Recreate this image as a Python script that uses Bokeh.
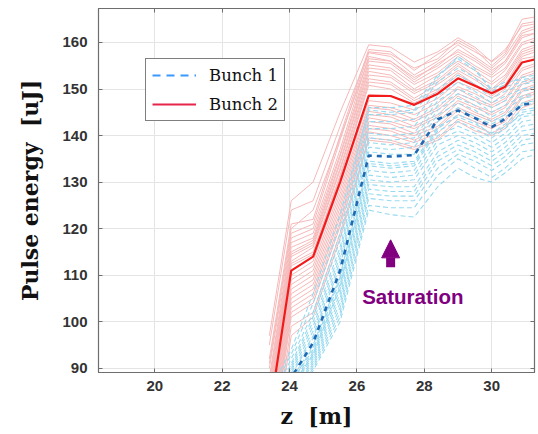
from bokeh.plotting import figure
from bokeh.models import (Range1d, LinearAxis, Legend, LegendItem, Arrow, NormalHead,
                          Label, FixedTicker)
from bokeh.embed import file_html
from bokeh.resources import INLINE

# ---------------- data ----------------
z = [23.4, 24.05, 24.7, 25.5, 26.35, 27.0, 27.7, 28.4, 29.0, 29.5, 30.0, 30.4, 30.9, 31.3]

bunch2_mean = [80, 111, 114, 130, 148.6, 148.5, 146.6, 149.0, 152.3, 150.7, 149.1, 150.5, 155.7, 156.4]
bunch1_mean = [79.5, 88, 95.5, 111, 135.7, 135.5, 135.8, 143.5, 145.4, 143.8, 141.8, 143.6, 146.6, 147.1]

bunch2_shots = [
    [97, 126, 130, 145, 159.5, 159, 155.8, 158, 161, 159, 155.8, 158, 165, 165.5],
    [95, 124, 126, 142, 158, 157.5, 154.5, 156.5, 160.5, 158.5, 155, 157.5, 164, 164.5],
    [92, 121, 122, 140, 158.5, 158, 154, 157.5, 160, 158, 156, 158.5, 163.5, 164],
    [91, 120, 124, 139.5, 156.5, 156, 152, 155.5, 158, 156, 153.5, 156, 162, 163],
    [90, 119, 121, 139, 157.8, 157, 153, 156, 159.5, 157, 154.5, 157, 162.5, 163.5],
    [88, 118, 120, 137, 157, 156, 152.5, 155, 158.5, 156.5, 154, 156, 161.5, 162],
    [87, 117, 119, 136, 156, 155.5, 151.5, 154.5, 157.5, 155, 153, 155.5, 161, 162],
    [86, 116, 118, 135.5, 155.2, 154.5, 151, 153.5, 157, 154.5, 152.5, 154.5, 160, 161],
    [85, 115, 117.5, 134.5, 154.5, 154, 150, 153, 156, 154, 151.5, 154, 159.5, 160.5],
    [84, 114.5, 117, 134, 153.8, 153, 149.5, 152, 155.5, 153, 151, 153, 158.5, 159.5],
    [83, 114, 116.5, 133, 153, 152.5, 149, 151.5, 155, 152.5, 150, 152.5, 158, 159],
    [82, 113, 116, 132.5, 152.2, 151.5, 148, 151, 154, 152, 149.5, 152, 157.5, 158.5],
    [81, 112.5, 115, 131.5, 151.5, 151, 147.5, 150, 153.5, 151, 149, 151, 157, 158],
    [81, 112, 114.5, 131, 150.8, 150, 147, 149.5, 153, 151, 148.5, 150.5, 156.5, 157],
    [79, 110, 113, 129.5, 147.5, 147, 145.5, 148, 151.5, 150, 148, 150, 154.5, 155.5],
    [78, 109, 112, 128.5, 146.5, 146, 144.5, 147, 150.5, 149, 147, 149, 154, 155],
    [77, 108, 111, 127.5, 146, 145.5, 143.5, 146, 150, 148, 146.5, 148, 153, 154],
    [76, 107, 110, 126.5, 145.2, 144.5, 143, 145.5, 149, 147.5, 146, 147.5, 152.5, 153.5],
    [75, 106, 109, 125.5, 144.5, 144, 142, 144.5, 148.5, 146.5, 145, 146.5, 151.5, 152.5],
    [74, 105, 108, 124.5, 143.8, 143, 141.5, 144, 147.5, 146, 144.5, 146, 151, 152],
    [73, 104, 107, 123.5, 143, 142.5, 140.5, 143, 147, 145, 143.5, 145, 150, 151],
    [72, 103, 106, 122.5, 142.2, 141.5, 140, 142, 146, 144.5, 143, 144.5, 149.5, 150.5],
    [71, 102, 105, 121.5, 141.5, 141, 139, 141.5, 145.5, 143.5, 142, 143.5, 148.5, 149.5],
    [70, 101, 104, 120.5, 140.8, 140, 138.5, 140.5, 144.5, 143, 141.5, 143, 148, 149],
    [68, 99, 102, 119, 139.5, 139, 137.5, 139.5, 143.5, 142, 140.5, 142, 147, 148],
    [66, 97, 101, 118, 139, 138.5, 137, 139, 143, 141, 140, 141.5, 146, 147],
]

bunch1_shots = [
    [85, 94, 106, 123, 145.5, 145, 145.5, 152.5, 157, 154.5, 149.5, 151, 152.5, 153],
    [84, 93, 104, 121, 146, 146, 146.5, 153, 156.5, 154, 150, 151.5, 152, 152.5],
    [83, 92, 102, 119, 144.5, 144.5, 145, 151.5, 154.5, 152.5, 149, 150.5, 151.5, 152],
    [82, 91, 101, 117.5, 143, 143, 143.5, 150, 153, 151, 148, 149.5, 151, 151.5],
    [81.5, 90.5, 100, 116, 141.5, 141.5, 142, 148.5, 151.5, 149.5, 147, 148.5, 150, 150.5],
    [81, 90, 99, 115, 140.5, 140, 140.5, 147.5, 150, 148.5, 146, 147.5, 149.5, 150],
    [80.5, 89.5, 98, 114, 139.5, 139, 139.5, 146.5, 149, 147.5, 145, 146.5, 148.5, 149],
    [80, 89, 97, 113, 138.5, 138, 138.5, 145.5, 148, 146.5, 144, 145.5, 148, 148.5],
    [79.5, 88.5, 96.5, 112, 137.5, 137, 137.5, 144.5, 147, 145.5, 143, 144.5, 147, 147.5],
    [78, 87, 94.5, 109.5, 136.5, 136, 136, 143, 146, 144, 142.5, 144, 146.5, 147],
    [79, 87.5, 95, 110, 134.5, 134, 134.5, 142, 144, 142.5, 140.5, 142.5, 145.5, 146],
    [77, 86, 93, 107.5, 134, 133.5, 134, 141.5, 144.5, 143, 140, 142, 144.5, 145],
    [78.5, 87, 94, 109, 133.5, 133, 133.5, 141, 143, 141.5, 139.5, 141.5, 145, 145.5],
    [78, 86.5, 93.5, 108, 132.5, 132, 132.5, 140, 142, 140.5, 138.5, 140.5, 144, 144.5],
    [77.5, 86, 93, 107, 131.5, 131, 131.5, 139, 141, 139.5, 137.5, 139.5, 143, 143.5],
    [77, 85.5, 92.5, 106, 130.5, 130, 130.5, 138, 140, 138.5, 136.5, 138.5, 142, 142.5],
    [76.5, 85, 92, 105, 129.5, 129, 129, 136.5, 139, 137.5, 135.5, 137.5, 141, 141.5],
    [76, 84.5, 91.5, 104, 128.5, 128, 128, 135.5, 138, 136.5, 134.5, 136.5, 140, 140.5],
    [75.5, 84, 91, 103, 127.5, 127, 127, 134.5, 137, 135.5, 133.5, 135.5, 139, 139.5],
    [75, 83.5, 90.5, 102, 126.5, 126, 126, 133, 136, 134.5, 132.5, 134.5, 138, 138.5],
    [74.5, 83, 90, 101, 125, 124.5, 124.5, 131.5, 135, 133, 131, 133, 136.5, 137],
    [74, 82.5, 89.5, 100, 124, 123, 122.5, 129, 133, 131, 130, 132, 135, 136],
]

x_ticks = [20, 22, 24, 26, 28, 30]
y_ticks = [90, 100, 110, 120, 130, 140, 150, 160]
series_names = ["Bunch 1", "Bunch 2"]
annotation_text = "Saturation"
annotation_z = 27.0
annotation_e = [111.7, 117.6]
NAN = float("nan")

# ---------------- figure ----------------
p = figure(width=538, height=434, output_backend="svg", toolbar_location=None,
           x_range=Range1d(18.33, 31.27), y_range=Range1d(89.1, 167.3),
           min_border_left=98, min_border_right=4, min_border_top=8, min_border_bottom=62)
p.background_fill_color = "white"
p.border_fill_color = "white"
p.outline_line_color = "#6e6e6e"
p.outline_line_width = 1.2

RED_FAINT = "#f6b9b9"
BLUE_FAINT = "#98daf0"
RED_MEAN = "#f21a1a"
BLUE_MEAN = "#1f69b3"
PURPLE = "#800080"

for s in bunch2_shots:
    p.line(z, s, line_color=RED_FAINT, line_width=1)
for s in bunch1_shots:
    p.line(z, s, line_color=BLUE_FAINT, line_width=1.1, line_dash="5 3")

p.line(z, bunch2_mean, line_color=RED_MEAN, line_width=2.2)
p.line(z, bunch1_mean, line_color=BLUE_MEAN, line_width=2.6, line_dash="5 5")

# legend-only renderers (no visible data)
l1 = p.line([NAN, NAN], [NAN, NAN], line_color="#3b98ff", line_width=2, line_dash="8 6")
l2 = p.line([NAN, NAN], [NAN, NAN], line_color="#e8244a", line_width=2)
legend = Legend(items=[LegendItem(label=series_names[0], renderers=[l1]),
                       LegendItem(label=series_names[1], renderers=[l2])],
                location=(47, 251), orientation="vertical")
legend.label_text_font = "DejaVu Serif"
legend.label_text_font_size = "16.5px"
legend.label_text_color = "#111111"
legend.border_line_color = "black"
legend.border_line_width = 1.6
legend.background_fill_alpha = 1
legend.glyph_width = 44
legend.glyph_height = 20
legend.label_height = 20
legend.label_standoff = 13
legend.padding = 6
legend.spacing = 9
legend.margin = 0
p.add_layout(legend, "center")

# axes styling
for ax in [p.xaxis[0], p.yaxis[0]]:
    ax.major_tick_in = 4
    ax.major_tick_out = 0
    ax.minor_tick_in = 0
    ax.minor_tick_out = 0
    ax.axis_line_color = "#6e6e6e"
    ax.major_tick_line_color = "#6e6e6e"
    ax.major_label_text_font = "Liberation Sans"
    ax.major_label_text_font_style = "bold"
    ax.major_label_text_font_size = "15px"
    ax.major_label_text_color = "#333333"
    ax.axis_label_text_font = "DejaVu Serif"
    ax.axis_label_text_font_style = "bold"
    ax.axis_label_text_font_size = "22px"
    ax.axis_label_text_color = "#111111"

p.xaxis[0].ticker = FixedTicker(ticks=x_ticks)
p.yaxis[0].ticker = FixedTicker(ticks=y_ticks)
p.xaxis[0].axis_label = "z\u00a0\u00a0[m]"
p.yaxis[0].axis_label = "Pulse energy\u00a0\u00a0[uJ]"
p.xaxis[0].major_label_standoff = 8
p.yaxis[0].major_label_standoff = 11
p.xaxis[0].axis_label_standoff = 9
p.yaxis[0].axis_label_standoff = 16

# top / right tick-only axes
for loc, tk in [("above", x_ticks), ("right", y_ticks)]:
    a = LinearAxis(ticker=FixedTicker(ticks=tk), major_label_text_font_size="0px",
                   major_tick_in=4, major_tick_out=0, minor_tick_in=0, minor_tick_out=0,
                   axis_line_color="#6e6e6e", major_tick_line_color="#6e6e6e",
                   major_label_standoff=0)
    p.add_layout(a, loc)

p.xgrid.ticker = FixedTicker(ticks=x_ticks)
p.ygrid.ticker = FixedTicker(ticks=y_ticks)
p.grid.grid_line_color = "#e4e4e4"
p.grid.grid_line_width = 1

# saturation annotation
p.add_layout(Arrow(end=NormalHead(size=18, fill_color=PURPLE, line_color=PURPLE),
                   x_start=annotation_z, y_start=annotation_e[0],
                   x_end=annotation_z, y_end=annotation_e[1],
                   line_color=PURPLE, line_width=9))
p.add_layout(Label(x=annotation_z + 0.66, y=105.4, text=annotation_text,
                   text_align="center", text_baseline="middle",
                   text_font="Liberation Sans", text_font_style="bold",
                   text_font_size="20.5px", text_color=PURPLE))

open("out.html", "w").write(file_html(p, INLINE))
